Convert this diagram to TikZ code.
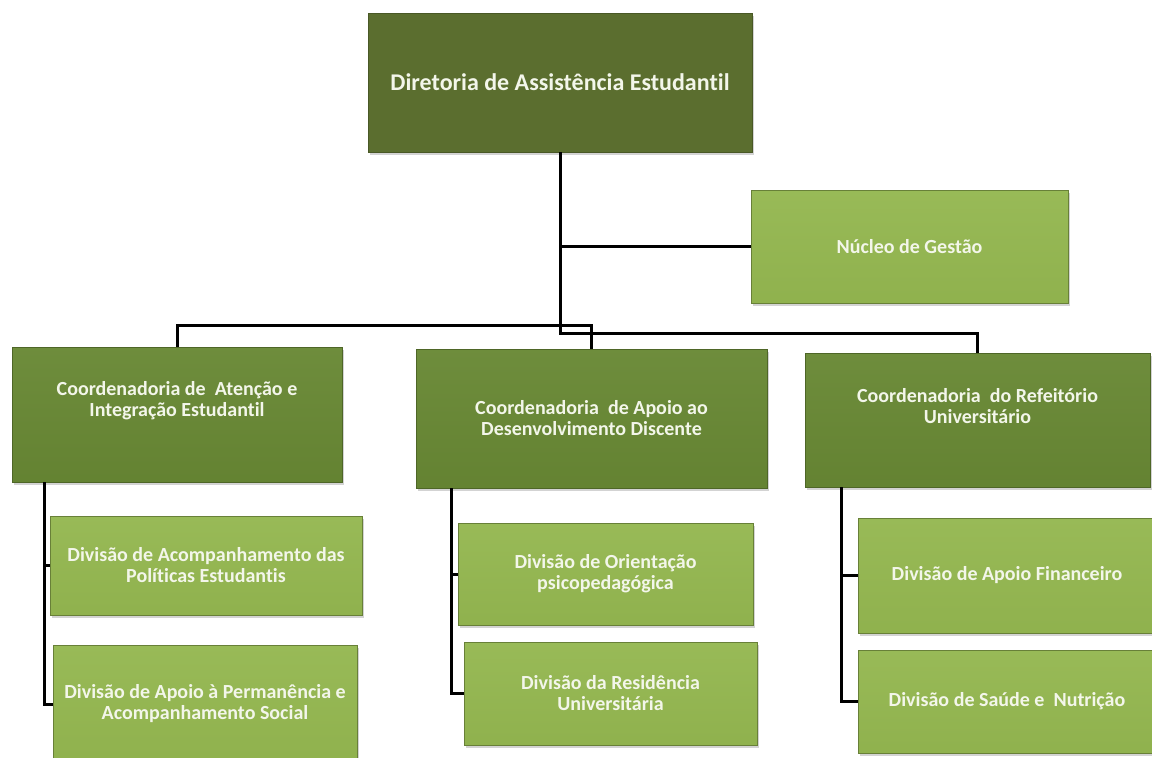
\documentclass[tikz,border=0pt]{standalone}
\usepackage{fontspec}
\setmainfont{Carlito}[Ligatures=NoCommon]
\usetikzlibrary{positioning,shadows}
\definecolor{dirgreen}{RGB}{91,110,47}
\definecolor{coordgreen}{RGB}{104,136,52}
\definecolor{divgreen}{RGB}{148,183,80}
\definecolor{boxtext}{RGB}{243,246,234}

\begin{document}
\begin{tikzpicture}[x=1pt,y=-1pt,
    box/.style={rectangle, inner sep=0pt, align=center, text=boxtext,
      font=\bfseries\fontsize{20}{21}\selectfont,
      drop shadow={shadow xshift=2pt,shadow yshift=-3pt,opacity=0.35}},
    dirbox/.style={box, fill=dirgreen, draw=dirgreen!80!black, line width=0.5pt,
      font=\bfseries\fontsize{24}{28}\selectfont},
    coordbox/.style={box, top color=coordgreen!96!white, bottom color=coordgreen!96!black,
      draw=coordgreen!75!black, line width=0.5pt},
    divbox/.style={box, top color=divgreen!96!white, bottom color=divgreen!97!black,
      draw=divgreen!70!black, line width=0.5pt},
    boxlabel/.style={inner sep=0pt, align=center, text=boxtext,
      font=\bfseries\fontsize{20}{21}\selectfont},
    conn/.style={draw=black, line width=3pt}]

        \useasboundingbox (0,0) rectangle (1152,758);

        \node[dirbox, minimum width=384pt, minimum height=139pt] (dir) at (560,82.5) {Diretoria de Assistência Estudantil};
        \node[divbox, minimum width=317pt, minimum height=113pt] (nuc) at (909.5,246.5) {Núcleo de Gestão};

        \node[coordbox, minimum width=330pt, minimum height=135pt] (cae) at (177,414.5) {};
        \node[coordbox, minimum width=351pt, minimum height=139pt] (cad) at (591.5,418.5) {};
        \node[coordbox, minimum width=345pt, minimum height=134pt] (cru) at (977.5,420) {};
        \node[boxlabel] (cae-txt) at ([yshift=14pt]cae.center) {Coordenadoria de\ \ Atenção e\\Integração Estudantil};
        \node[boxlabel] (cad-txt) at (cad.center) {Coordenadoria\ \ de Apoio ao\\Desenvolvimento Discente};
        \node[boxlabel] (cru-txt) at ([yshift=14pt]cru.center) {Coordenadoria\ \ do Refeitório\\Universitário};

        \node[divbox, minimum width=312pt, minimum height=99pt] (dpol) at (206,565.5) {Divisão de Acompanhamento das\\Políticas Estudantis};
        \node[divbox, minimum width=304pt, minimum height=118pt] (dperm) at (205,704) {Divisão de Apoio à Permanência e\\Acompanhamento Social};
        \node[divbox, minimum width=295pt, minimum height=102pt] (dori) at (605.5,574) {Divisão de Orientação\\psicopedagógica};
        \node[divbox, minimum width=293pt, minimum height=103pt] (dres) at (610.5,693.5) {Divisão da Residência\\Universitária};
        \node[divbox, minimum width=298pt, minimum height=115pt] (dfin) at (1007,575.5) {Divisão de Apoio Financeiro};
        \node[divbox, minimum width=298pt, minimum height=103pt] (dsau) at (1007,701.5) {Divisão de Saúde e\ \ Nutrição};

        \draw[conn] (dir.south) -- ++(0,181) -| (cru.north);
        \draw[conn] (dir.south |- nuc.west) -- (nuc.west);
        \draw[conn] (cae.north) -- ++(0,-21) -| (cad.north);

        \draw[conn] ([xshift=33pt]cae.south west) |- (dpol.west);
        \draw[conn] ([xshift=33pt]cae.south west) |- (dperm.west);
        \draw[conn] ([xshift=36pt]cad.south west) |- (dori.west);
        \draw[conn] ([xshift=36pt]cad.south west) |- (dres.west);
        \draw[conn] ([xshift=37pt]cru.south west) |- (dfin.west);
        \draw[conn] ([xshift=37pt]cru.south west) |- (dsau.west);
      \end{tikzpicture}
\end{document}
